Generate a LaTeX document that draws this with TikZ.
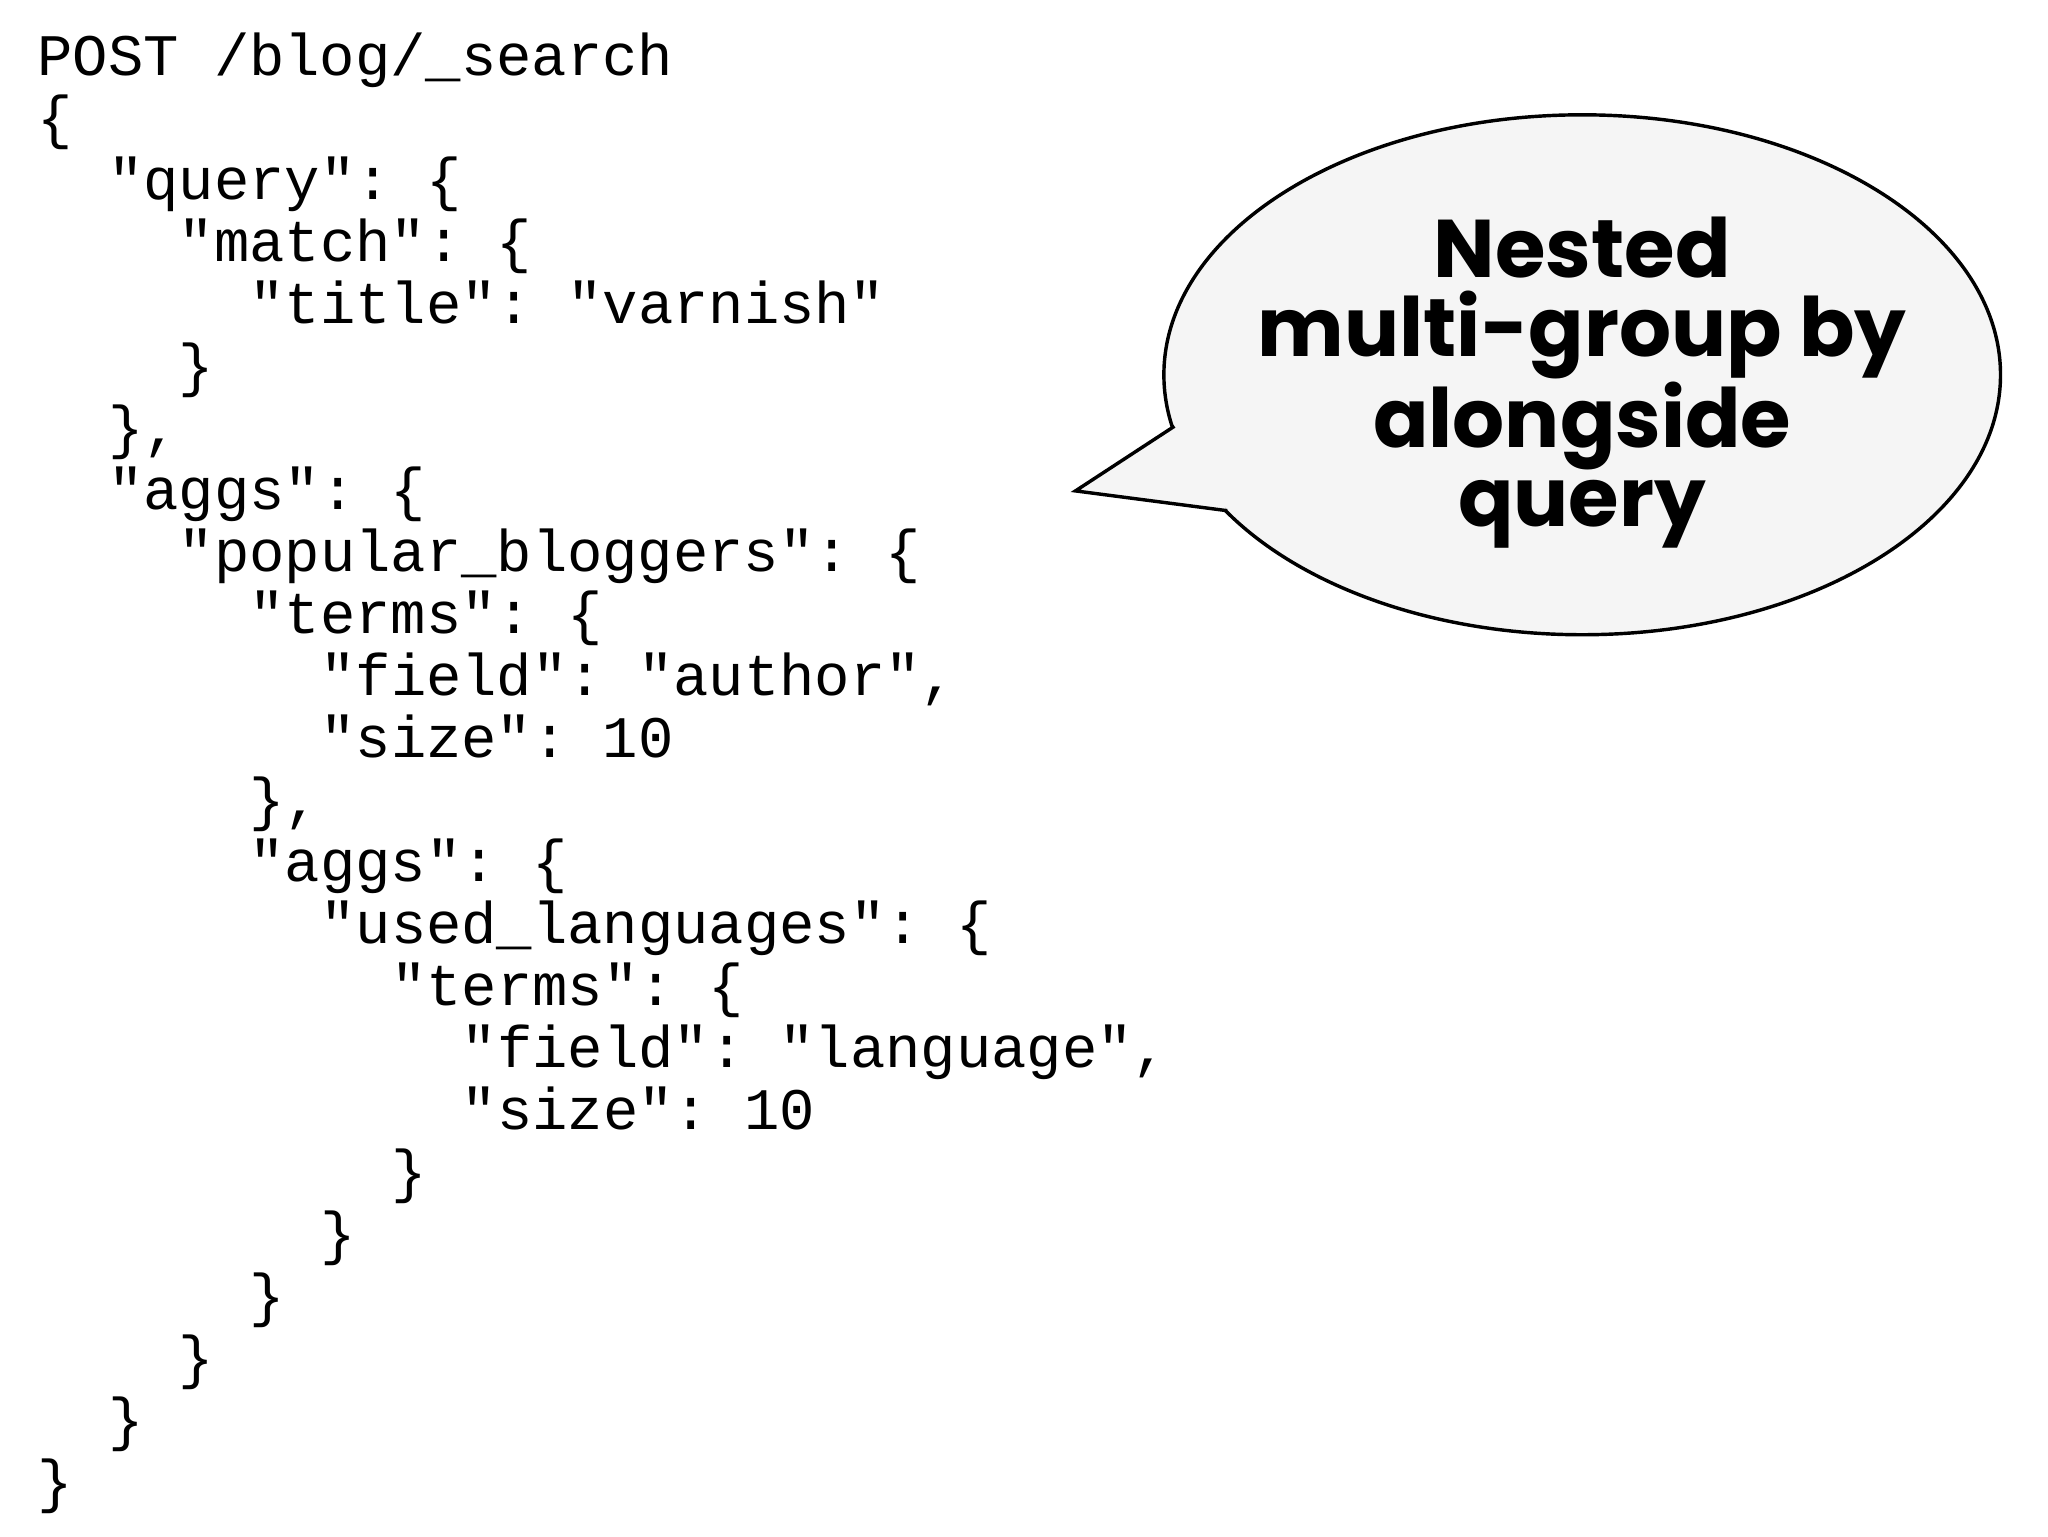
\documentclass[tikz,border=0pt]{standalone}
\usepackage{fontspec}
\setmonofont{Liberation Mono}
\newfontfamily\bubblefont{Poppins}
\begin{document}
\begin{tikzpicture}[x=0.5pt,y=-0.5pt,
  codeline/.style={anchor=base west,inner sep=0pt,font=\ttfamily\fontsize{22.3}{24}\selectfont},
  bubble/.style={fill=gray!8}]
\useasboundingbox (0,0) rectangle (1552,1164);
\def\cw{26.8}
\foreach \i/\ind/\t in {
0/0/{POST /blog/\_search},
1/0/{\{},
2/2/{"query": \{},
3/4/{"match": \{},
4/6/{"title": "varnish"},
5/4/{\}},
6/2/{\},},
7/2/{"aggs": \{},
8/4/{"popular\_bloggers": \{},
9/6/{"terms": \{},
10/8/{"field": "author",},
11/8/{"size": 10},
12/6/{\},},
13/6/{"aggs": \{},
14/8/{"used\_languages": \{},
15/10/{"terms": \{},
16/12/{"field": "language",},
17/12/{"size": 10},
18/10/{\}},
19/8/{\}},
20/6/{\}},
21/4/{\}},
22/2/{\}},
23/0/{\}}}
  \node[codeline] (l\i) at ({28+\ind*\cw},{57+\i*47}) {\t};
\filldraw[bubble,line width=1.3pt] (1199,284) ellipse [x radius=317,y radius=197];
\fill[bubble] (890,323) -- (815,372) -- (930,387) -- cycle;
\draw[line width=1.3pt,line join=miter] (890,323) -- (815,372) -- (930,387);
\node[font=\bubblefont\bfseries\fontsize{31}{30}\selectfont,align=center,inner sep=0pt] (bt) at (1199,290)
  {Nested\\multi-group by\\alongside\\query};
\end{tikzpicture}
\end{document}
